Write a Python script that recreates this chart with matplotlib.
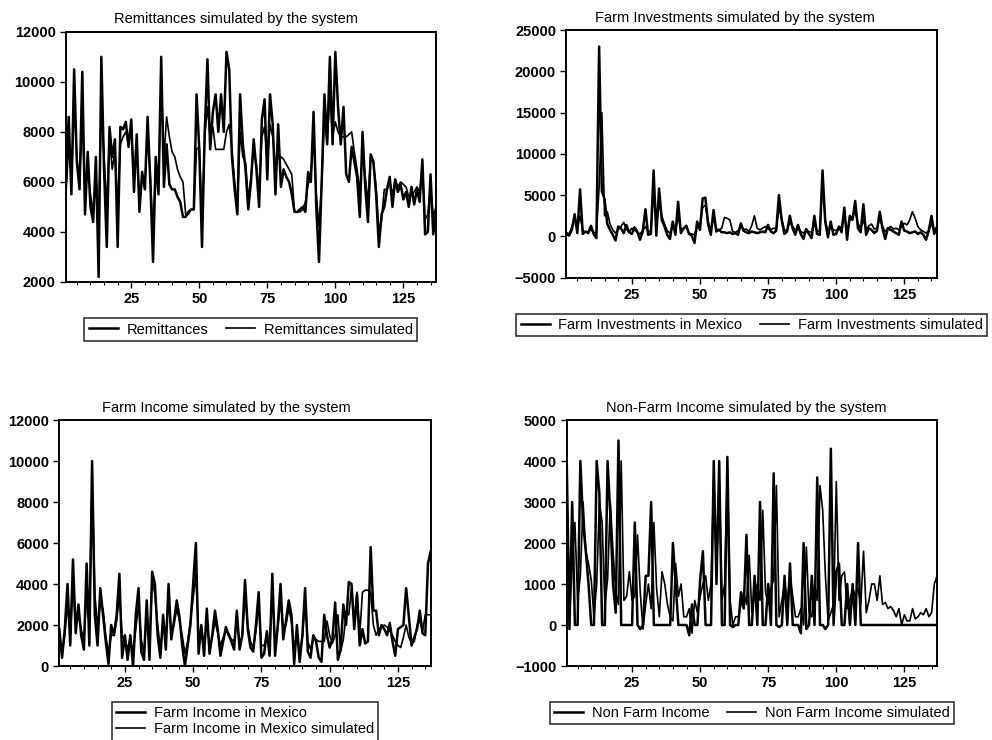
import matplotlib
matplotlib.use("Agg")
import matplotlib.pyplot as plt
from matplotlib.ticker import MultipleLocator

plt.rcParams['font.family'] = ['Liberation Sans', 'DejaVu Sans']

periods = list(range(1, 138))

remit = [6000, 8600, 5500, 10500, 6800, 5700, 10400, 4700, 7200, 5000,
         4400, 7000, 2200, 11000, 6500, 3400, 8200, 7000, 7700, 3400,
         8200, 8100, 8400, 7400, 8500, 5600, 7900, 4800, 6400, 5700,
         8600, 6000, 2800, 7000, 5500, 11000, 5800, 7500, 5900, 5700,
         5700, 5400, 5200, 4600, 4600, 4800, 4900, 4900, 9500, 7300,
         3400, 8000, 10900, 7300, 8800, 9500, 8000, 9500, 8000, 11200,
         10500, 7000, 5700, 4700, 9500, 7500, 6500, 4900, 6000, 7700,
         6500, 5000, 8500, 9300, 6100, 9500, 8300, 5500, 8300, 5800,
         6500, 6200, 6000, 5500, 4800, 4800, 4900, 5000, 4800, 6400,
         6000, 8800, 5000, 2800, 6000, 9500, 7500, 11000, 7500, 11200,
         9000, 7500, 9000, 6300, 6000, 7400, 6800, 6200, 4600, 8000,
         5800, 4400, 7100, 6800, 5500, 3400, 4700, 5000, 5700, 6200,
         5000, 6100, 5600, 5900, 5300, 5600, 5000, 5800, 5100, 5700,
         5200, 6900, 3900, 4000, 6300, 3900, 4800]
remit_sim = [5500, 7500, 6000, 9000, 7000, 6000, 8500, 5500, 6500, 5500,
             4800, 6200, 4500, 9000, 7000, 5000, 7800, 6500, 7200, 5000,
             7500, 7800, 8000, 7500, 8200, 6000, 7500, 5200, 6200, 5800,
             8000, 6200, 4000, 6800, 6000, 10000, 7000, 8600, 7800, 7200,
             7000, 6500, 6200, 6000, 4700, 4700, 4900, 4900, 7300, 7400,
             4500, 7800, 9000, 7800, 8200, 7300, 7300, 7300, 7300, 8000,
             8300, 7300, 6000, 5000, 8000, 7000, 6800, 5300, 6200, 7300,
             6700, 5600, 7800, 8200, 6800, 8300, 7800, 6500, 7000, 7000,
             6900, 6700, 6500, 6300, 4800, 4800, 4800, 4900, 5200, 5900,
             6200, 7800, 5500, 4200, 6000, 8500, 7600, 9500, 7800, 8400,
             8000, 7800, 7800, 7800, 7900, 8000, 7200, 6500, 5600, 7200,
             6200, 5200, 7000, 6800, 5800, 4000, 4500, 5700, 5700, 6000,
             5500, 6100, 5800, 6000, 5900, 5800, 5400, 5500, 5600, 5800,
             5600, 6500, 4500, 4700, 5800, 4600, 5000]

farm_inv = [300, 100, 800, 2700, 400, 5700, 300, 600, 400, 1300,
            300, -200, 23000, 5500, 4500, 1500, 800, 200, -500, 1200,
            1000, 400, 1400, 500, 300, 1100, 600, -400, 600, 3300,
            200, 300, 8000, 100, 5800, 2000, 1200, 200, -300, 1800,
            200, 4200, 400, 1000, 1300, 300, 100, -800, 1800, 800,
            4600, 4700, 1500, 200, 3200, 600, 800, 500, 500, 400,
            500, 300, 400, 200, 1600, 700, 500, 400, 600, 500,
            400, 500, 600, 500, 1400, 600, 400, 700, 5000, 2000,
            300, 600, 2500, 1000, 200, 1400, 300, -300, 900, 300,
            -200, 2500, 300, 200, 8000, 1800, -100, 1800, 200, 300,
            1200, 500, 3500, -400, 2500, 2000, 4300, 1000, 500, 3900,
            200, 1000, 800, 400, 700, 3000, 1000, -300, 1000, 800,
            600, 400, 200, 1800, 700, 600, 400, 500, 600, 300,
            500, 200, -400, 700, 2500, 300, 1200]
farm_inv_sim = [500, 300, 1200, 2000, 1000, 2500, 700, 500, 600, 800,
                500, 400, 6000, 15000, 2500, 3000, 1500, 800, 400, 800,
                1200, 1700, 900, 500, 1000, 800, 500, 300, 700, 1200,
                500, 700, 5000, 1500, 4000, 2500, 1500, 700, 400, 1200,
                600, 2500, 800, 900, 1200, 400, 300, 200, 1200, 1000,
                3500, 3800, 1800, 800, 2200, 900, 800, 1000, 2300, 2200,
                2000, 600, 500, 700, 1200, 800, 900, 600, 1300, 2500,
                1000, 800, 1000, 1200, 900, 800, 1000, 900, 3500, 2200,
                800, 700, 1800, 1200, 800, 1000, 600, 400, 800, 600,
                500, 1500, 700, 600, 6500, 2000, 500, 1200, 800, 700,
                1000, 1200, 2500, 600, 2000, 2300, 3000, 1600, 900, 2000,
                800, 1300, 1500, 900, 1000, 2200, 1200, 600, 1000, 1200,
                900, 1000, 800, 1200, 1600, 1400, 2000, 3000, 2200, 1200,
                800, 600, 400, 700, 1500, 800, 900]

farm_inc = [1800, 400, 1800, 4000, 1000, 5200, 1600, 3000, 1500, 800,
            5000, 1000, 10000, 2500, 1000, 3800, 2500, 1200, 100, 2000,
            1500, 2500, 4500, 400, 1500, 300, 1500, 0, 2500, 3800,
            700, 300, 3200, 300, 4600, 4000, 1500, 400, 2500, 800,
            4000, 1300, 2200, 3200, 2400, 1000, 0, 1000, 2000, 4000,
            6000, 600, 2000, 500, 2800, 600, 1500, 2700, 1800, 500,
            1200, 1900, 1500, 1200, 800, 2700, 800, 1500, 4200, 1800,
            900, 700, 2000, 3600, 400, 600, 1700, 500, 4500, 500,
            2000, 4000, 1300, 2200, 3200, 2500, 100, 2000, 200, 1500,
            3800, 700, 400, 1500, 1200, 400, 200, 2500, 1500, 900,
            1300, 3100, 300, 800, 3000, 2000, 4100, 4000, 1800, 3500,
            1000, 1800, 1100, 1200, 5800, 2700, 2700, 1500, 2000, 1800,
            1500, 2100, 1200, 500, 1800, 1900, 2000, 3800, 2400, 1000,
            1400, 1800, 2700, 1600, 1500, 5000, 5600]
farm_inc_sim = [1500, 600, 1500, 3000, 1500, 4000, 2000, 2500, 1800, 1200,
                3500, 2000, 9300, 3500, 2000, 3000, 2800, 1500, 600, 1500,
                1500, 2200, 3500, 1500, 1200, 900, 1300, 700, 1800, 3000,
                1300, 600, 2500, 1000, 4200, 3500, 2000, 900, 1800, 1500,
                3200, 1600, 2000, 2800, 2200, 1500, 600, 1200, 2200, 3300,
                4500, 1500, 1800, 1000, 2100, 1000, 1400, 2200, 1600, 1000,
                1400, 1700, 1600, 1300, 1200, 2200, 1200, 1400, 3500, 2000,
                1200, 900, 1700, 3000, 1000, 1000, 1500, 1100, 3500, 1200,
                1800, 3200, 1800, 2000, 2800, 2200, 900, 1500, 700, 1400,
                3200, 1200, 800, 1400, 1300, 1200, 1200, 1200, 2200, 1500,
                1100, 1500, 2500, 700, 1300, 2500, 2500, 3800, 2200, 3600,
                1500, 3600, 3700, 3700, 3600, 2000, 1500, 1800, 1900, 2000,
                1900, 1700, 1500, 1200, 1000, 900, 1400, 2000, 1400, 1100,
                1200, 2000, 2200, 1700, 2500, 2500, 2500]

nonfarm = [4000, -100, 3000, 0, 0, 4000, 2500, 1800, 1000, 0,
           0, 4000, 3200, 0, 0, 4000, 2700, 1000, 300, 4500,
           0, 0, 0, 0, 0, 2500, 0, -100, 0, 1200,
           1200, 3000, 0, 0, 0, 0, 0, 0, 0, 2000,
           1000, 0, 0, 0, 0, -250, 500, 0, 0, 1100,
           1800, 0, 0, 0, 4000, 1000, 4000, 0, 0, 4100,
           0, -50, 0, 0, 800, 400, 2200, 0, 0, 1200,
           0, 3000, 0, 0, 1000, 0, 3700, 0, -50, 0,
           1200, 0, 1500, 0, 0, 0, -200, 2000, -100, 0,
           1200, 0, 3600, 0, 0, -100, 0, 4300, 0, 1300,
           1500, 0, 0, 1000, 0, 1000, 0, 2000, 0, 0,
           0, 0, 0, 0, 0, 0, 0, 0, 0, 0,
           0, 0, 0, 0, 0, 0, 0, 0, 0, 0,
           0, 0, 0, 0, 0, 0, 0]
nonfarm_sim = [3500, 200, 1500, 2500, 600, 1200, 3000, 1800, 1500, 1100,
               200, 1000, 3000, 2500, 500, 1100, 3000, 1800, 800, 500,
               4000, 600, 700, 1300, 600, 700, 2200, 800, -100, 500,
               1000, 400, 2500, 900, 200, 1300, 1000, 500, 200, 100,
               1500, 700, 1000, 200, 200, 400, -200, 600, 300, 700,
               1000, 1200, 600, 1000, 3600, 1300, 3500, 600, 1000, 3800,
               600, 0, 200, 200, 500, 800, 500, 1700, 300, 800,
               1000, 600, 2800, 800, 500, 900, 1100, 3400, 200, 600,
               1000, 600, 1200, 700, 200, 200, 400, 0, 1900, 300,
               200, 1000, 600, 3400, 2800, 1200, 100, 300, 500, 3500,
               600, 1200, 1300, 400, 600, 900, 700, 900, 500, 1800,
               300, 600, 1000, 1000, 600, 1200, 500, 550, 400, 450,
               350, 200, 400, 0, 250, 100, 100, 400, 150, 200,
               300, 250, 400, 200, 300, 1000, 1200]

panels = [
    dict(title="Remittances simulated by the system", a=remit, s=remit_sim,
         labels=["Remittances", "Remittances simulated"], ylim=(2000, 12000),
         ystep=2000, rect=[0.0665, 0.619, 0.373, 0.338], tx=0.46, ncol=2),
    dict(title="Farm Investments simulated by the system", a=farm_inv, s=farm_inv_sim,
         labels=["Farm Investments in Mexico", "Farm Investments simulated"],
         ylim=(-5000, 25000), ystep=5000, rect=[0.571, 0.6247, 0.3735, 0.3347],
         tx=0.455, ncol=2),
    dict(title="Farm Income simulated by the system", a=farm_inc, s=farm_inc_sim,
         labels=["Farm Income in Mexico", "Farm Income in Mexico simulated"],
         ylim=(0, 12000), ystep=2000, rect=[0.0598, 0.1, 0.3744, 0.3324],
         tx=0.449, ncol=1),
    dict(title="Non-Farm Income simulated by the system", a=nonfarm, s=nonfarm_sim,
         labels=["Non Farm Income", "Non Farm Income simulated"],
         ylim=(-1000, 5000), ystep=1000, rect=[0.5713, 0.1, 0.3733, 0.3324],
         tx=0.486, ncol=2),
]

fig = plt.figure(figsize=(9.92, 7.40), dpi=100)

for p in panels:
    ax = fig.add_axes(p["rect"])
    ax.plot(periods, p["a"], color="black", lw=1.8, label=p["labels"][0])
    ax.plot(periods, p["s"], color="black", lw=1.2, label=p["labels"][1])
    ax.set_xlim(1, 137)
    ax.set_ylim(*p["ylim"])
    ax.xaxis.set_major_locator(MultipleLocator(25))
    ax.xaxis.set_minor_locator(MultipleLocator(5))
    ax.yaxis.set_major_locator(MultipleLocator(p["ystep"]))
    ax.tick_params(axis="both", which="major", direction="out", length=4,
                   width=1, labelsize=10.5, colors="black")
    ax.tick_params(axis="x", which="minor", direction="out", length=2.5, width=0.8)
    ax.tick_params(axis="y", which="minor", left=False)
    for lab in ax.get_xticklabels() + ax.get_yticklabels():
        lab.set_fontweight("bold")
    for sp in ax.spines.values():
        sp.set_linewidth(1.4)
        sp.set_color("black")
    ax.set_title(p["title"], x=p["tx"], fontsize=10.5, pad=6)
    leg = ax.legend(loc="upper center", bbox_to_anchor=(0.5, -0.145), ncol=p["ncol"],
                    frameon=True, fancybox=False, edgecolor="black", fontsize=10.5,
                    handlelength=2.0, columnspacing=1.2, borderpad=0.3,
                    labelspacing=0.15, handletextpad=0.6, borderaxespad=0)
    leg.get_frame().set_linewidth(1.2)

fig.savefig("out.png", dpi=100, facecolor="white")
